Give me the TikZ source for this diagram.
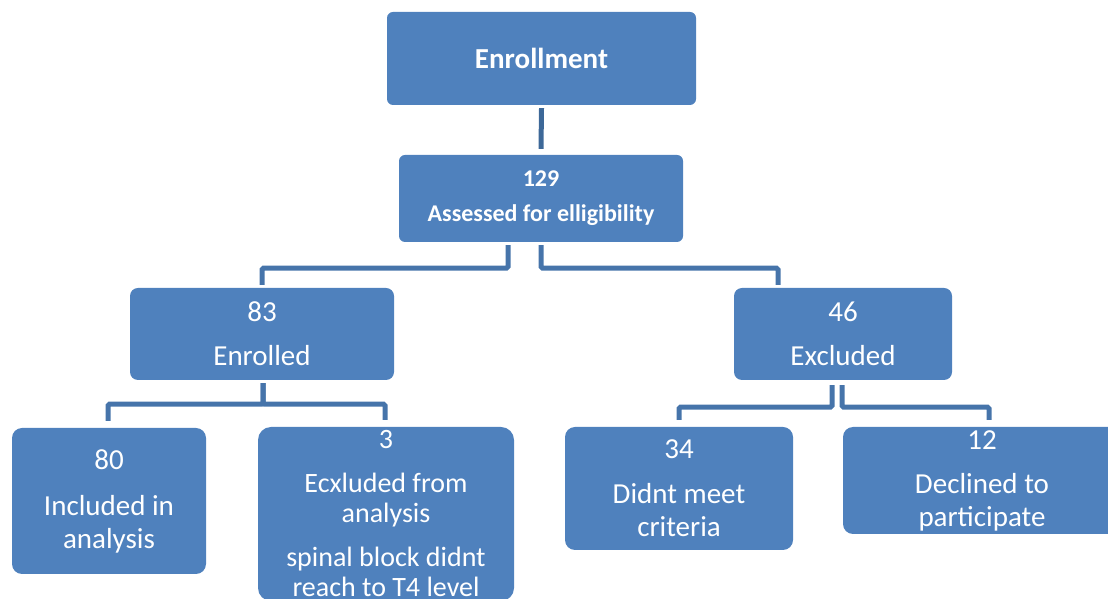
\documentclass[tikz,border=0pt]{standalone}
\usepackage{fontspec}
\setmainfont{Carlito}
\definecolor{boxblue}{HTML}{4F81BD}
\definecolor{linkblue}{HTML}{4674AA}
\definecolor{stemblue}{HTML}{3D6898}
\begin{document}
\begin{tikzpicture}[x=1pt,y=1pt,
    box/.style={fill=boxblue,text=white,align=center,inner sep=0pt,rounded corners=8pt,
      font=\fontsize{29}{33}\selectfont},
    topbox/.style={box,rounded corners=6pt,font=\bfseries\fontsize{29}{33}\selectfont},
    link/.style={draw=linkblue,line width=5pt,rounded corners=1.5pt},
    stem/.style={draw=stemblue,line width=5pt}]
    \useasboundingbox (0,0) rectangle (1108,599);
    \clip (0,0) rectangle (1108,599);

    \node[topbox,minimum width=309pt,minimum height=93pt] (enroll) at (541.5,540.5) {Enrollment};
    \node[topbox,minimum width=284pt,minimum height=87pt,font=\bfseries\fontsize{24}{28}\selectfont] (assess) at (541,400.5) {129\\[7pt]Assessed for elligibility};

    \node[box,minimum width=264pt,minimum height=92pt] (enrolled) at (262,265) {83\\[11pt]Enrolled};
    \node[box,minimum width=218pt,minimum height=92pt] (excluded) at (843,265) {46\\[11pt]Excluded};

    \node[box,rounded corners=10pt,minimum width=194pt,minimum height=146pt] (included) at (109,98) {80\\[13pt]Included in\\analysis};
    \node[box,rounded corners=13pt,minimum width=256pt,minimum height=174pt,font=\fontsize{28}{30}\selectfont] (removed) at (386,85) {3\\[14pt]Ecxluded from\\analysis\\[14pt]spinal block didnt\\reach to T4 level};
    \node[box,rounded corners=10pt,minimum width=228pt,minimum height=123pt] (unmet) at (679,110.5) {34\\[12pt]Didnt meet\\criteria};
    \node[box,rounded corners=10pt,minimum width=278pt,minimum height=107pt] (declined) at (982,118.5) {12\\[11pt]Declined to\\participate};

    \draw[stem] ([yshift=-3pt]enroll.south) -- ([yshift=6pt]assess.north);

    \draw[link] ([xshift=-33pt,yshift=-3pt]assess.south) -- ++(0,-23) -| ([yshift=3pt]enrolled.north);
    \draw[link] ([yshift=-3pt]assess.south) -- ++(0,-23) -| ([xshift=-65pt,yshift=3pt]excluded.north);

    \draw[link] ([xshift=1pt,yshift=-3pt]enrolled.south) -- ++(0,-21) -| ([xshift=-1pt,yshift=7pt]included.north);
    \draw[link] ([xshift=1pt,yshift=-3pt]enrolled.south) -- ++(0,-21) -| ([xshift=-1pt,yshift=7pt]removed.north);

    \draw[link] ([xshift=-11pt,yshift=-5pt]excluded.south) -- ++(0,-22) -| ([yshift=7pt]unmet.north);
    \draw[link] ([xshift=-1pt,yshift=-5pt]excluded.south) -- ++(0,-22) -| ([xshift=7pt,yshift=7pt]declined.north);
\end{tikzpicture}
\end{document}
